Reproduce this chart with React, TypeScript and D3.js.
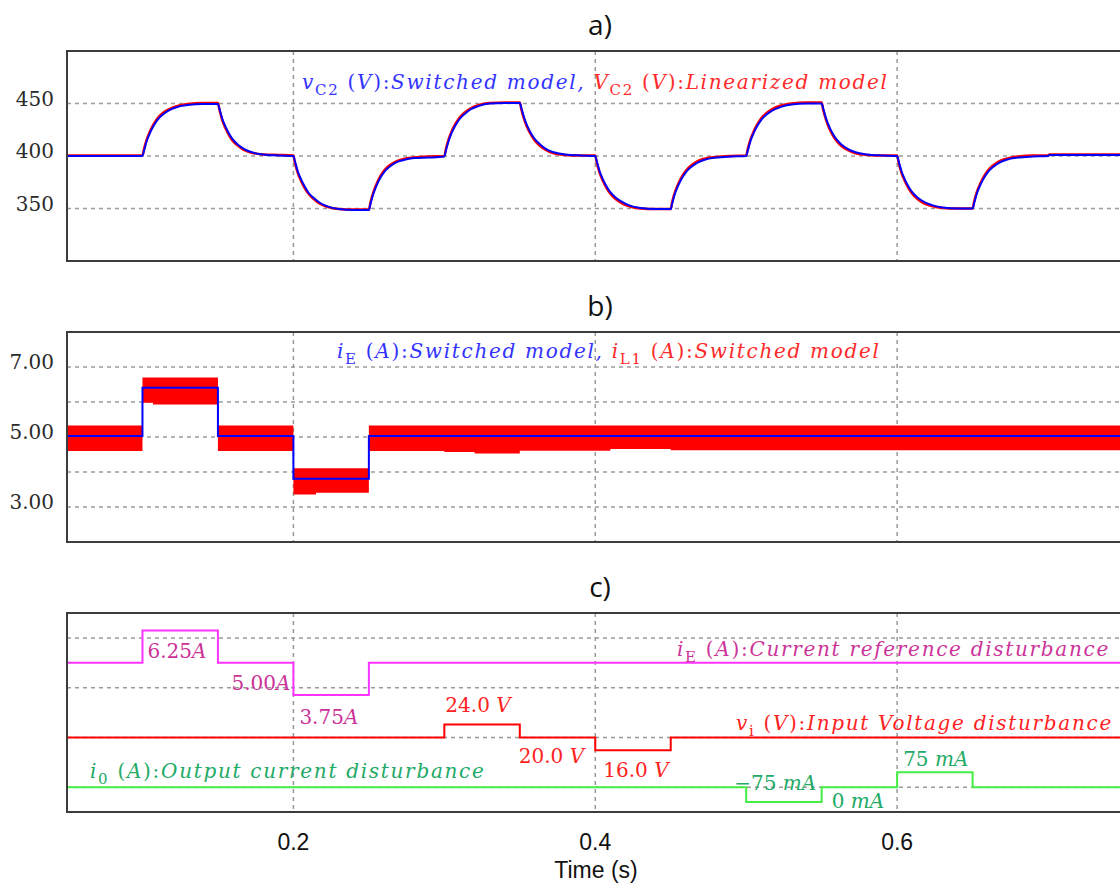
import React from "react";
import * as d3 from "d3";

// ---------- DATA ----------
const xGridValues = [0.2, 0.4, 0.6, 0.8];
const xTickValues = [0.2, 0.4, 0.6];
const xTickLabels = ["0.2", "0.4", "0.6"];

// Panel a: capacitor voltage vC2 (V)
const vTime = [
  0.05,
  0.1, 0.101, 0.103, 0.105, 0.1075, 0.11, 0.1135, 0.1175, 0.1225, 0.13, 0.14,
  0.15, 0.151, 0.153, 0.155, 0.1575, 0.16, 0.1635, 0.1675, 0.1725, 0.18, 0.19,
  0.2, 0.201, 0.203, 0.205, 0.2075, 0.21, 0.2135, 0.2175, 0.2225, 0.23, 0.24,
  0.25, 0.251, 0.253, 0.255, 0.2575, 0.26, 0.2635, 0.2675, 0.2725, 0.28, 0.29,
  0.3, 0.301, 0.303, 0.305, 0.3075, 0.31, 0.3135, 0.3175, 0.3225, 0.33, 0.34,
  0.35, 0.351, 0.353, 0.355, 0.3575, 0.36, 0.3635, 0.3675, 0.3725, 0.38, 0.39,
  0.4, 0.401, 0.403, 0.405, 0.4075, 0.41, 0.4135, 0.4175, 0.4225, 0.43, 0.44,
  0.45, 0.451, 0.453, 0.455, 0.4575, 0.46, 0.4635, 0.4675, 0.4725, 0.48, 0.49,
  0.5, 0.501, 0.503, 0.505, 0.5075, 0.51, 0.5135, 0.5175, 0.5225, 0.53, 0.54,
  0.55, 0.551, 0.553, 0.555, 0.5575, 0.56, 0.5635, 0.5675, 0.5725, 0.58, 0.59,
  0.6, 0.601, 0.603, 0.605, 0.6075, 0.61, 0.6135, 0.6175, 0.6225, 0.63, 0.64,
  0.65, 0.651, 0.653, 0.655, 0.6575, 0.66, 0.6635, 0.6675, 0.6725, 0.68, 0.69,
  0.7, 0.701, 0.8,
];
const vC2Switched = [
  400,
  400, 405, 415, 422, 429, 434.5, 439.5, 443.5, 446.5, 448.5, 449.5,
  449.5, 445, 435, 428, 421, 415.5, 410.5, 406.5, 403.5, 401.5, 400.5,
  400, 395, 385, 378, 371, 365, 360, 355.5, 352, 349.5, 348.5,
  348.5, 354, 364, 371.5, 379, 384.5, 389.5, 393.5, 396, 398, 398.5,
  399.5, 405, 415, 422.5, 429.5, 435, 440, 444.5, 447.5, 450, 450.5,
  450.5, 446, 436, 428.5, 421.5, 416, 411, 406.5, 403.5, 401.5, 400.5,
  400, 395, 385, 378, 371, 365.5, 360.5, 356.5, 353, 350.5, 349.5,
  349.5, 355, 365, 372, 379, 384.5, 389.5, 393.5, 396.5, 398.5, 399.5,
  400, 405, 415, 422, 429, 434.5, 439.5, 443.5, 446.5, 449, 450,
  450, 445.5, 435.5, 428, 421, 415.5, 410.5, 406.5, 403.5, 401.5, 400.5,
  400, 395, 385, 378, 371, 365.5, 360.5, 356.5, 353.5, 351, 350,
  350, 355, 365, 372, 379, 384.5, 389.5, 393.5, 396.5, 398.5, 399.5,
  400, 401, 401,
];
const vC2Linearized = [
  400.5,
  400.5, 406.5, 416.5, 423.5, 430.5, 436, 441, 444.5, 447.5, 449.5, 450.5,
  450.5, 444, 433.5, 426.5, 419.5, 414, 409.5, 405.5, 403, 401.5, 401,
  400.5, 393.5, 383.5, 376.5, 369.5, 364, 359, 354.5, 351.5, 349.5, 349,
  349, 355.5, 365.5, 373, 380.5, 386, 391, 394.5, 397, 398.5, 399.5,
  400, 406.5, 416.5, 424, 431, 436.5, 441.5, 445.5, 448.5, 450.5, 451,
  451, 444.5, 434.5, 427, 420, 414.5, 409.5, 405.5, 402.5, 401, 400.5,
  400.5, 393.5, 383.5, 376.5, 369.5, 364, 359, 355, 352, 350, 349.5,
  349.5, 356.5, 366.5, 373.5, 380.5, 386, 391, 395, 397.5, 399, 400,
  400.5, 406.5, 416.5, 423.5, 430.5, 436, 441, 445, 448, 450, 451,
  451, 444, 434, 426.5, 419.5, 414, 409, 405.5, 402.5, 401, 400.5,
  400.5, 393.5, 383.5, 376.5, 369.5, 364, 359, 355, 352.5, 350.5, 350,
  350, 356.5, 366.5, 373.5, 380.5, 386, 391, 395, 397.5, 399.5, 400.5,
  400.5, 401.5, 401.5,
];
const aTicks = [350, 400, 450];

// Panel b: currents (A)
const iETime = [0.05, 0.1, 0.15, 0.2, 0.25, 0.8];
const iESwitched = [5.03, 6.41, 5.03, 3.81, 5.03, 5.03];
const bandTime = [0.05, 0.1, 0.107, 0.15, 0.2, 0.215, 0.25, 0.3, 0.32, 0.35, 0.41, 0.45, 0.8];
const iL1Upper = [5.33, 6.7, 6.7, 5.33, 4.11, 4.11, 5.33, 5.33, 5.33, 5.33, 5.33, 5.33, 5.33];
const iL1Lower = [4.6, 5.98, 5.93, 4.6, 3.36, 3.41, 4.6, 4.57, 4.53, 4.61, 4.66, 4.62, 4.62];
const bGrid = [3, 4, 5, 6, 7];
const bTicks = [3, 5, 7];

// Panel c: disturbances
const iERefTime = [0.05, 0.1, 0.15, 0.2, 0.25, 0.8];
const iERef = [5, 6.25, 5, 3.75, 5, 5];
const viTime = [0.05, 0.3, 0.35, 0.4, 0.45, 0.8];
const viRef = [20, 24, 20, 16, 20, 20];
const ioTime = [0.05, 0.5, 0.55, 0.6, 0.65, 0.8];
const ioRef = [0, -75, 0, 75, 0, 0];
const cGrid = [0, 1, 2, 3];

// ---------- STYLE ----------
const W = 1120;
const H = 888;
const GRID = "#9a9a9a";
const BOX = "#3c3c3c";
const SERIF = "'DejaVu Serif', serif";
const SANS = "'Liberation Sans', Arial, sans-serif";
const TITLE = "'Open Sans', 'DejaVu Sans', sans-serif";

const LF = 20; // label font size
const SUB = 15;
const LS = 1.7; // letter spacing for the long italic labels

function Sym({ base, sub, unit, rest }: { base: string; sub: string; unit: string; rest: string }) {
  return (
    <>
      <tspan fontStyle="italic">{base}</tspan>
      <tspan fontSize={SUB} dy={6}>{sub}</tspan>
      <tspan dy={-6}>{"  ("}</tspan>
      <tspan fontStyle="italic">{unit}</tspan>
      <tspan>{"):"}</tspan>
      <tspan fontStyle="italic">{rest}</tspan>
    </>
  );
}

export default function App() {
  const x = d3.scaleLinear().domain([0.05, 0.8]).range([67, 1199]);
  const yA = d3.scaleLinear().domain([300, 500]).range([261, 51]);
  const yB = d3.scaleLinear().domain([2, 8]).range([542, 332]);
  const yC = d3.scaleLinear().domain([-0.5, 3.5]).range([812, 613]);
  const sIE = d3.scaleLinear().domain([5, 6.25]).range([yC(2.5), yC(3.15)]);
  const sVi = d3.scaleLinear().domain([20, 24]).range([yC(1), yC(1.26)]);
  const sIo = d3.scaleLinear().domain([0, 75]).range([yC(0), yC(0.3)]);

  const idx = (arr: number[]) => arr.map((_, i) => i);

  const lineA = (vals: number[]) =>
    d3.line<number>().x((i) => x(vTime[i])).y((i) => yA(vals[i])).curve(d3.curveMonotoneX)(idx(vals)) || "";
  const step = (ts: number[], vs: number[], sy: (v: number) => number) =>
    d3.line<number>().x((i) => x(ts[i])).y((i) => sy(vs[i])).curve(d3.curveStepAfter)(idx(vs)) || "";
  const band =
    d3
      .area<number>()
      .x((i) => x(bandTime[i]))
      .y0((i) => yB(iL1Lower[i]))
      .y1((i) => yB(iL1Upper[i]))
      .curve(d3.curveStepAfter)(idx(bandTime)) || "";

  const panels = [
    { y: yA, top: 51, bottom: 261, grid: aTicks, ticks: aTicks, fmt: (v: number) => String(v), title: "a)", id: "a" },
    { y: yB, top: 332, bottom: 542, grid: bGrid, ticks: bTicks, fmt: (v: number) => v.toFixed(2), title: "b)", id: "b" },
    { y: yC, top: 613, bottom: 812, grid: cGrid, ticks: [] as number[], fmt: (v: number) => String(v), title: "c)", id: "c" },
  ];

  return (
    <svg
      width={W}
      height={H}
      style={{ position: "absolute", left: 0, top: 0, background: "#fff" }}
      xmlns="http://www.w3.org/2000/svg"
    >
      <defs>
        {panels.map((p) => (
          <clipPath id={"clip-" + p.id} key={p.id}>
            <rect x={x(0.05)} y={p.top} width={x(0.8) - x(0.05)} height={p.bottom - p.top} />
          </clipPath>
        ))}
      </defs>
      {panels.map((p) => (
        <g key={p.id}>
          <text x={600} y={p.top - 16} textAnchor="middle" fontFamily={TITLE} fontSize={28} fill="#111">
            {p.title}
          </text>
          {p.grid.map((g) => (
            <line key={"h" + g} x1={x(0.05)} x2={x(0.8)} y1={p.y(g)} y2={p.y(g)} stroke={GRID} strokeWidth={1.5} strokeDasharray="4,4" />
          ))}
          {xGridValues.map((t) => (
            <line key={"v" + t} x1={x(t)} x2={x(t)} y1={p.top} y2={p.bottom} stroke={GRID} strokeWidth={1.5} strokeDasharray="4,4" />
          ))}
          {p.ticks.map((t) => (
            <text key={"t" + t} x={54} y={p.y(t) + 2} textAnchor="end" fontFamily={SERIF} fontSize={20} fill="#2a2a2a">
              {p.fmt(t)}
            </text>
          ))}
        </g>
      ))}

      {/* Panel a */}
      <g clipPath="url(#clip-a)">
        <path d={lineA(vC2Linearized)} fill="none" stroke="#ff0000" strokeWidth={2.5} />
        <path d={lineA(vC2Switched)} fill="none" stroke="#0000ff" strokeWidth={2} />
      </g>
      <text x={302} y={89} fontFamily={SERIF} fontSize={LF} letterSpacing={LS}>
        <tspan fill="#3333ff">
          <Sym base="v" sub="C2" unit="V" rest="Switched model," />
        </tspan>
        <tspan fill="#ff2a2a">
          <tspan>{" "}</tspan>
          <Sym base="V" sub="C2" unit="V" rest="Linearized model" />
        </tspan>
      </text>

      {/* Panel b */}
      <g clipPath="url(#clip-b)">
        <path d={band} fill="#ff0000" />
        <path d={step(iETime, iESwitched, yB)} fill="none" stroke="#0000ff" strokeWidth={2} />
      </g>
      <text x={337} y={358} fontFamily={SERIF} fontSize={LF} letterSpacing={LS}>
        <tspan fill="#3333ff">
          <Sym base="i" sub="E" unit="A" rest="Switched model," />
        </tspan>
        <tspan fill="#ff2a2a">
          <tspan>{" "}</tspan>
          <Sym base="i" sub="L1" unit="A" rest="Switched model" />
        </tspan>
      </text>

      {/* Panel c */}
      <g clipPath="url(#clip-c)">
        <path d={step(iERefTime, iERef, sIE)} fill="none" stroke="#ff33ff" strokeWidth={2} />
        <path d={step(viTime, viRef, sVi)} fill="none" stroke="#ff0000" strokeWidth={2} />
        <path d={step(ioTime, ioRef, sIo)} fill="none" stroke="#44ee44" strokeWidth={2} />
      </g>
      <g fontFamily={SERIF} fontSize={LF}>
        <text x={x(0.1) + 5} y={sIE(6.25) + 28} fill="#cc3399">6.25<tspan fontStyle="italic">A</tspan></text>
        <text x={x(0.2) - 3} y={sIE(5) + 27} fill="#cc3399" textAnchor="end">5.00<tspan fontStyle="italic">A</tspan></text>
        <text x={x(0.2) + 6} y={sIE(3.75) + 29} fill="#cc3399">3.75<tspan fontStyle="italic">A</tspan></text>
        <text x={1110} y={656} fill="#cc3399" textAnchor="end" letterSpacing={LS}>
          <Sym base="i" sub="E" unit="A" rest="Current reference disturbance" />
        </text>

        <text x={x(0.3) + 1} y={sVi(24) - 12} fill="#ff2222">24.0 <tspan fontStyle="italic">V</tspan></text>
        <text x={x(0.35) - 1} y={sVi(20) + 26} fill="#ff2222">20.0 <tspan fontStyle="italic">V</tspan></text>
        <text x={x(0.4) + 8} y={sVi(16) + 27} fill="#ff2222">16.0 <tspan fontStyle="italic">V</tspan></text>
        <text x={1113} y={730} fill="#ff2222" textAnchor="end" letterSpacing={LS}>
          <Sym base="v" sub="i" unit="V" rest="Input Voltage disturbance" />
        </text>

        <text x={x(0.5) - 12} y={sIo(-75) - 12} fill="#22aa66">−75 <tspan fontStyle="italic">mA</tspan></text>
        <text x={x(0.55) + 10} y={sIo(0) + 21} fill="#22aa66">0 <tspan fontStyle="italic">mA</tspan></text>
        <text x={x(0.6) + 6} y={sIo(75) - 6} fill="#22aa66">75 <tspan fontStyle="italic">mA</tspan></text>
        <text x={90} y={778} fill="#22aa66" letterSpacing={LS}>
          <Sym base="i" sub="0" unit="A" rest="Output current disturbance" />
        </text>
      </g>

      {/* Boxes */}
      {panels.map((p) => (
        <rect key={"box" + p.id} x={x(0.05)} y={p.top} width={x(0.8) - x(0.05)} height={p.bottom - p.top} fill="none" stroke={BOX} strokeWidth={2} />
      ))}

      {/* X axis */}
      {xTickValues.map((t, i) => (
        <text key={"xl" + t} x={x(t)} y={850} textAnchor="middle" fontFamily={SANS} fontSize={23} fill="#111">
          {xTickLabels[i]}
        </text>
      ))}
      <text x={596} y={878} textAnchor="middle" fontFamily={SANS} fontSize={23} fill="#111">
        Time (s)
      </text>
    </svg>
  );
}
